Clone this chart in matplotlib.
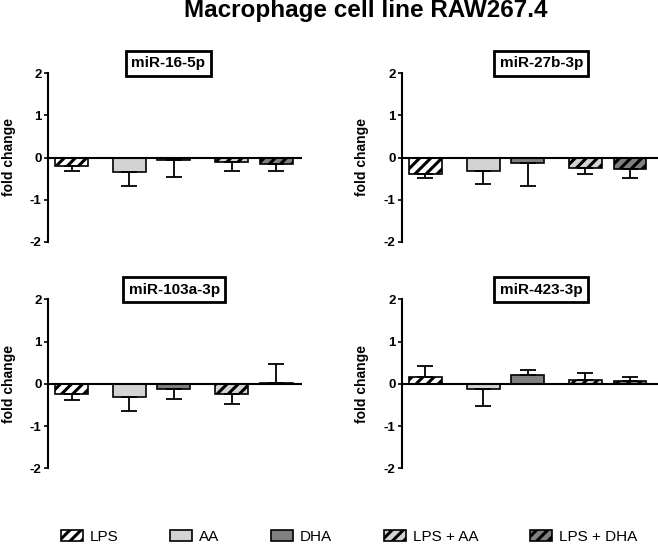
import matplotlib
matplotlib.use('Agg')
import matplotlib.pyplot as plt
from matplotlib.patches import Patch
import numpy as np

plt.rcParams['font.family'] = ['Liberation Sans', 'DejaVu Sans']
plt.rcParams['hatch.linewidth'] = 2.2
plt.rcParams['axes.unicode_minus'] = False

groups = ['LPS', 'AA', 'DHA', 'LPS + AA', 'LPS + DHA']
xpos = [0, 1.3, 2.3, 3.6, 4.6]   # gaps like in the original graph

# mean fold change and SEM
titles = ['miR-16-5p', 'miR-27b-3p', 'miR-103a-3p', 'miR-423-3p']
mean_16 = [-0.19, -0.35, -0.05, -0.11, -0.15]
sem_16 = [0.12, 0.32, 0.40, 0.21, 0.18]
mean_27b = [-0.38, -0.32, -0.12, -0.24, -0.27]
sem_27b = [0.11, 0.30, 0.56, 0.15, 0.22]
mean_103a = [-0.25, -0.31, -0.13, -0.24, 0.03]
sem_103a = [0.14, 0.33, 0.22, 0.23, 0.45]
mean_423 = [0.17, -0.13, 0.20, 0.10, 0.07]
sem_423 = [0.26, 0.40, 0.12, 0.15, 0.10]

means = [mean_16, mean_27b, mean_103a, mean_423]
sems = [sem_16, sem_27b, sem_103a, sem_423]

colors = ['white', '#d3d3d3', '#808080', '#d3d3d3', '#808080']
hatches = ['///', None, None, '///', '///']

fig = plt.figure(figsize=(6.58, 5.44), dpi=100)
W, H = 658.0, 544.0
# axes rectangles in pixels: left, y of -2, width, height
rects = [(48, 242, 254, 169), (401.7, 242, 256, 169),
         (48, 468.3, 254, 169), (401.7, 468.3, 256, 169)]
title_x = [0.474, 0.545, 0.497, 0.544]

for i in range(4):
    l, b, w, h = rects[i]
    ax = fig.add_axes([l / W, (H - b) / H, w / W, h / H])
    m = np.array(means[i])
    s = np.array(sems[i])
    for j in range(5):
        ax.bar(xpos[j], m[j], width=0.74, color=colors[j], hatch=hatches[j],
               edgecolor='black', linewidth=1.2, zorder=2)
    lower = np.where(m < 0, s, 0)
    upper = np.where(m >= 0, s, 0)
    ax.errorbar(xpos, m, yerr=[lower, upper], fmt='none', ecolor='black',
                elinewidth=1.3, capsize=6, capthick=1.3, zorder=3)
    ax.axhline(0, color='black', lw=1.5, zorder=4)
    ax.set_xlim(-0.53, -0.53 + w / 44.5)
    ax.set_ylim(-2, 2)
    ax.set_yticks([-2, -1, 0, 1, 2])
    ax.set_xticks([])
    for sp in ['top', 'right', 'bottom']:
        ax.spines[sp].set_visible(False)
    ax.spines['left'].set_linewidth(1.5)
    ax.tick_params(axis='y', direction='out', length=3, width=1.2, pad=1.5,
                   labelsize=9.5)
    for t in ax.get_yticklabels():
        t.set_fontweight('bold')
    ax.text(-0.155, 0.5, 'fold change', transform=ax.transAxes, rotation=90,
            ha='center', va='center', fontsize=10, fontweight='bold')
    ax.text(title_x[i], 1.057, titles[i], transform=ax.transAxes,
            ha='center', va='center', fontsize=11, fontweight='bold',
            bbox=dict(boxstyle='square,pad=0.35', fc='white', ec='black', lw=2))

fig.text(366 / W, (H - 17) / H, 'Macrophage cell line RAW267.4', ha='center',
         va='baseline', fontsize=17.5, fontweight='bold')

handles = [Patch(facecolor=colors[j], hatch=hatches[j], edgecolor='black',
                 linewidth=1.2) for j in range(5)]
fig.legend(handles, groups, ncol=5, loc='center left',
           bbox_to_anchor=(61 / W, (H - 537) / H), frameon=False, fontsize=11,
           handlelength=1.44, handleheight=0.72, handletextpad=0.46,
           columnspacing=3.37, borderpad=0, borderaxespad=0)

fig.savefig('out.png', dpi=100)
